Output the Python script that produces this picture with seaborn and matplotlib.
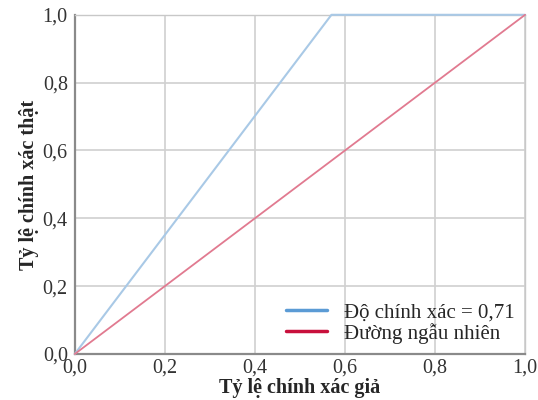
import numpy as np
import pandas as pd
import seaborn as sns
import matplotlib.pyplot as plt
from matplotlib.ticker import FuncFormatter

# ROC-style data
fpr_model = [0.0, 0.57, 1.0]
tpr_model = [0.0, 1.0, 1.0]
fpr_random = [0.0, 1.0]
tpr_random = [0.0, 1.0]
ticks = [0.0, 0.2, 0.4, 0.6, 0.8, 1.0]

sns.set_style('whitegrid')
plt.rcParams['font.family'] = ['Liberation Serif', 'DejaVu Serif']

fig = plt.figure(figsize=(5.38, 4.0), dpi=100)
ax = fig.add_axes([0.139, 0.115, 0.837, 0.848])

df_model = pd.DataFrame({'x': fpr_model, 'y': tpr_model})
df_random = pd.DataFrame({'x': fpr_random, 'y': tpr_random})
sns.lineplot(data=df_model, x='x', y='y', ax=ax, color='#a9c9e6', linewidth=1.5,
             sort=False, label='Độ chính xác = 0,71', clip_on=False, zorder=5)
sns.lineplot(data=df_random, x='x', y='y', ax=ax, color='#e17a90', linewidth=1.3,
             sort=False, label='Đường ngẫu nhiên', clip_on=False, zorder=5)

ax.set_xlim(0, 1)
ax.set_ylim(0, 1)
ax.set_xticks(ticks)
ax.set_yticks(ticks)
fmt = FuncFormatter(lambda v, p: f'{v:.1f}'.replace('.', ','))
ax.xaxis.set_major_formatter(fmt)
ax.yaxis.set_major_formatter(fmt)
ax.tick_params(axis='both', labelsize=14.5, colors='#333333', length=0)
ax.tick_params(axis='x', pad=3)
ax.tick_params(axis='y', pad=5)
ax.grid(True, color='#d0d0d0', linewidth=1.2)
for side in ['top', 'right']:
    ax.spines[side].set_color('#c8c8c8')
    ax.spines[side].set_linewidth(1.0)
for side in ['left', 'bottom']:
    ax.spines[side].set_color('#8a8a8a')
    ax.spines[side].set_linewidth(1.6)

ax.set_xlabel('Tỷ lệ chính xác giả', fontsize=14.5, fontweight='bold', va='center')
ax.xaxis.set_label_coords(0.5, -0.1)
ax.set_ylabel('Tỷ lệ chính xác thật', fontsize=14.5, fontweight='bold', labelpad=3)

leg = ax.legend(loc='lower right', fontsize=15, frameon=False, handlelength=2.0,
                borderaxespad=0.1, labelspacing=0.0, handletextpad=0.8)
leg.get_lines()[0].set_color('#5b9bd5')
leg.get_lines()[0].set_linewidth(2.5)
leg.get_lines()[1].set_color('#c8103c')
leg.get_lines()[1].set_linewidth(2.5)

fig.savefig('out.png', dpi=100)
